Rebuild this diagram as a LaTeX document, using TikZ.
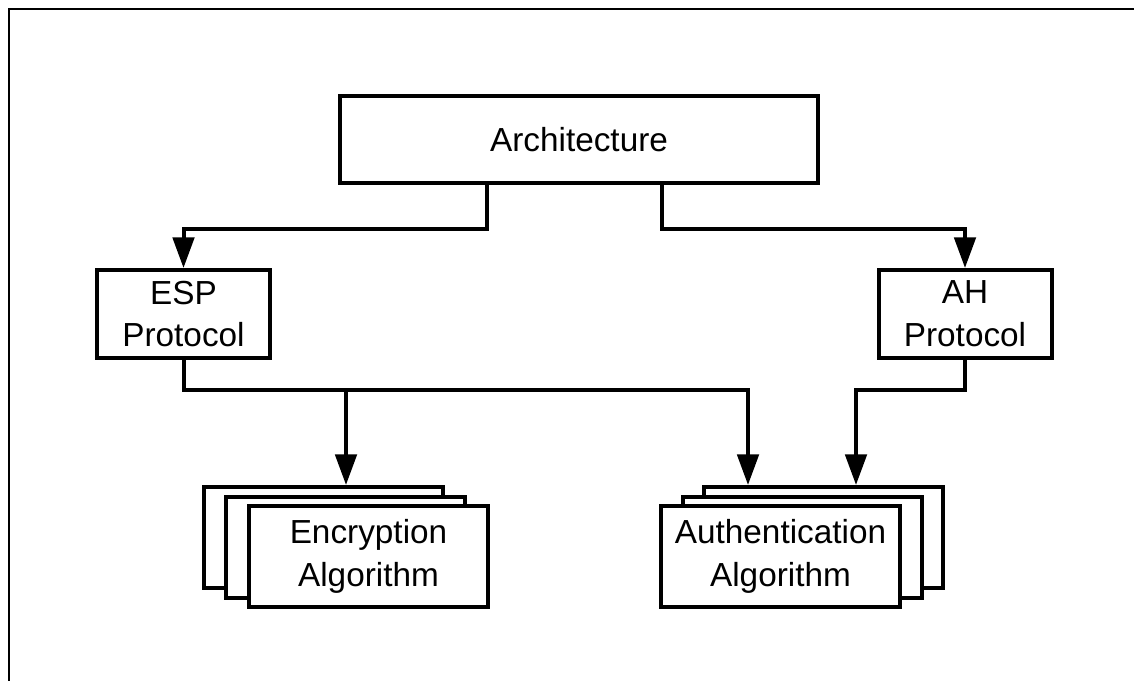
\documentclass[tikz,border=0pt]{standalone}
\usepackage{fontspec}
\setmainfont{Liberation Sans}
\usetikzlibrary{arrows.meta}

\tikzset{
  box/.style={draw, line width=3pt, fill=white, inner sep=0pt, align=center,
    font=\fontsize{25}{32}\selectfont},
  algbox/.style={box, minimum width=179.25pt, minimum height=75.75pt},
  link/.style={line width=3pt, -{Triangle[length=23pt,width=16pt]}},
}

\begin{document}
\begin{tikzpicture}[x=0.75pt,y=0.75pt,yscale=-1,xscale=1]
\useasboundingbox (0,0) rectangle (1134,681);

%Frame
\draw [line width=1.8pt] (9,720) -- (9,9) -- (1160,9) ;

% Architecture
\node [box, minimum width=358.5pt, minimum height=65.25pt] (arch) at (579,139.5) {Architecture};
% Protocols
\node [box, minimum width=129.75pt, minimum height=66pt] (esp) at (183.5,314) {ESP\\Protocol};
\node [box, minimum width=129.75pt, minimum height=66pt] (ah) at (965,314) {AH\\Protocol};

% Encryption stack
\node [algbox] (encC) at (323,537.5) {};
\node [algbox] (encB) at (345.5,547) {};
\node [algbox] (enc) at (368.5,556.5) {Encryption\\Algorithm};
% Authentication stack
\node [algbox] (authC) at (823,537.5) {};
\node [algbox] (authB) at (802.5,547) {};
\node [algbox] (auth) at (780.5,556.5) {Authentication\\Algorithm};

\coordinate (ejoin) at (346,390);
\coordinate (ajoin) at (748,390);
\coordinate (hjoin) at (856,390);

%Connectors
\draw [link] ([xshift=-69pt]arch.south) -- ++(0,44) -| (esp.north) ;
\draw [link] ([xshift=62.25pt]arch.south) -- ++(0,44) -| (ah.north) ;
\draw [link] (esp.south) |- (ajoin) -- (ajoin |- authC.north) ;
\draw [link] (ejoin) -- (ejoin |- encC.north) ;
\draw [link] (ah.south) |- (hjoin) -- (hjoin |- authC.north) ;
\end{tikzpicture}
\end{document}
